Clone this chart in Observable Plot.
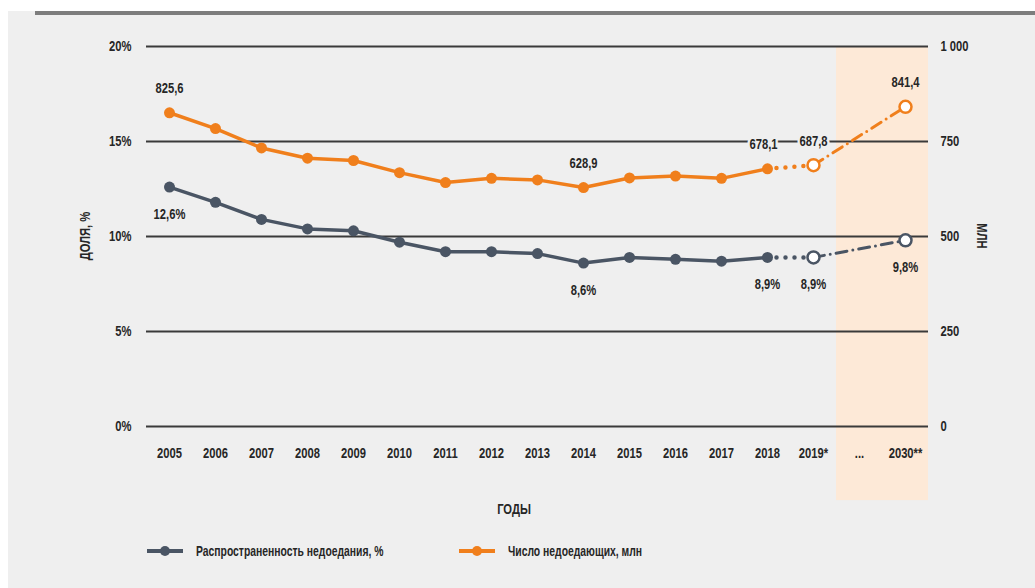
<!DOCTYPE html>
<html><head><meta charset="utf-8">
<script src="https://cdn.jsdelivr.net/npm/d3@7"></script>
<script src="https://cdn.jsdelivr.net/npm/@observablehq/plot@0.6"></script>
<style>
body{margin:0;background:#fff;width:1035px;height:588px;overflow:hidden;position:relative;
 font-family:"Liberation Sans",Arial,sans-serif;font-weight:bold;color:#262626}
#bg{position:absolute;left:8px;top:11px;width:1027px;height:577px;background:#efefef}
#bar{position:absolute;left:35px;top:11px;width:1000px;height:4px;background:#7d7d7d}
#chart{position:absolute;left:0;top:0}
.lab{position:absolute;font-size:14px;white-space:nowrap;line-height:1}
.legend{position:absolute;top:543px;font-size:14px;display:flex;align-items:center;gap:12px;white-space:nowrap}
.legend span{display:inline-block;transform:scaleX(0.74);transform-origin:left center}
</style></head>
<body>
<div id="bg"></div><div id="bar"></div>
<div id="chart"></div>
<div class="lab" id="ylab" style="left:85px;top:236px;transform:translate(-50%,-50%) rotate(-90deg) scaleX(0.8)">ДОЛЯ, %</div>
<div class="lab" id="y2lab" style="left:982px;top:236px;transform:translate(-50%,-50%) rotate(90deg) scaleX(0.8)">МЛН</div>
<div class="lab" id="xlab" style="left:514px;top:509px;transform:translate(-50%,-50%) scaleX(0.8)">ГОДЫ</div>
<div class="legend" id="leg1" style="left:146px"></div>
<div class="legend" id="leg2" style="left:458px"></div>
<script>
// ---- data ----
const years = ["2005","2006","2007","2008","2009","2010","2011","2012","2013","2014","2015","2016","2017","2018","2019*","...","2030**"];
const dataYears = ["2005","2006","2007","2008","2009","2010","2011","2012","2013","2014","2015","2016","2017","2018","2019*","2030**"];
const prevalence = [12.6,11.8,10.9,10.4,10.3,9.7,9.2,9.2,9.1,8.6,8.9,8.8,8.7,8.9,8.9,9.8];
const undernourished = [825.6,784,733,706,700,668,642,653,649,628.9,654,659,653,678.1,687.8,841.4];
const labelYears = ["2005","2014","2018","2019*","2030**"];
const forecastYears = ["...","2030**"];
const pctTicks = [0,5,10,15,20];
const mlnTicks = [0,250,500,750,1000];
const seriesNames = ["Распространенность недоедания, %","Число недоедающих, млн"];

// ---- styles ----
const GRAY = "#4a5564", ORANGE = "#f07f1c", BAND = "#fde9d7", BG = "#efefef", INK = "#262626";
const MLN_PER_PCT = mlnTicks[mlnTicks.length-1] / pctTicks[pctTicks.length-1];
const ru = d3.formatLocale({decimal:",", thousands:" ", grouping:[3], currency:["",""]});
const fmt1 = ru.format(".1f"), fmtInt = ru.format(",");

const rows = dataYears.map((y,i)=>({year:y, pct:prevalence[i], mln:undernourished[i]}));
const lastObs = dataYears.indexOf("2018"), est = dataYears.indexOf("2019*");
const solid = rows.slice(0, lastObs+1);
const dotted = rows.slice(lastObs, est+1);
const dashdot = rows.slice(est);
const openPts = rows.slice(est);
const labRows = rows.filter(r=>labelYears.includes(r.year));
const yM = r => r.mln / MLN_PER_PCT;

const nearGrid = labRows.filter(r=>!forecastYears.includes(r.year) && r.year!=="2018");
const lab2018 = labRows.filter(r=>r.year==="2018");
const labFc = labRows.filter(r=>forecastYears.includes(r.year));

const chart = Plot.plot({
  width:1035, height:520,
  marginTop:46, marginBottom:94, marginLeft:146, marginRight:107,
  style:{background:"transparent", fontFamily:'"Liberation Sans",Arial,sans-serif', fontWeight:"bold", fontSize:"14px", color:INK},
  x:{type:"band", domain:years, padding:0},
  y:{domain:[pctTicks[0], pctTicks[pctTicks.length-1]]},
  marks:[
    Plot.barY(forecastYears, {x:d=>d, y1:-3.9, y2:pctTicks[pctTicks.length-1], fill:BAND}),
    Plot.ruleY(pctTicks, {stroke:"#3a3a3a", strokeWidth:2}),
    Plot.axisX({tickSize:0, tickPadding:22, label:null, fontSize:14}),
    Plot.axisY({anchor:"left", ticks:pctTicks, tickSize:0, tickPadding:15, tickFormat:d=>d+"%", label:null, fontSize:14}),
    Plot.axisY({anchor:"right", ticks:mlnTicks.map(v=>v/MLN_PER_PCT), tickSize:0, tickPadding:12, tickFormat:(d,i)=>fmtInt(mlnTicks[i]), label:null, fontSize:14}),
    // gray series
    Plot.line(solid, {x:"year", y:"pct", stroke:GRAY, strokeWidth:3.5}),
    Plot.line(dotted, {x:"year", y:"pct", stroke:GRAY, strokeWidth:4.5, strokeDasharray:"0,9", strokeLinecap:"round"}),
    Plot.line(dashdot, {x:"year", y:"pct", stroke:GRAY, strokeWidth:3, strokeDasharray:"11,6,0,6", strokeLinecap:"round"}),
    // orange series
    Plot.line(solid, {x:"year", y:yM, stroke:ORANGE, strokeWidth:3.5}),
    Plot.line(dotted, {x:"year", y:yM, stroke:ORANGE, strokeWidth:4.5, strokeDasharray:"0,9", strokeLinecap:"round"}),
    Plot.line(dashdot, {x:"year", y:yM, stroke:ORANGE, strokeWidth:3, strokeDasharray:"11,6,0,6", strokeLinecap:"round"}),
    Plot.dot(solid, {x:"year", y:"pct", r:5.5, fill:GRAY}),
    Plot.dot(solid, {x:"year", y:yM, r:5.5, fill:ORANGE}),
    Plot.dot(openPts, {x:"year", y:"pct", r:6, fill:"white", stroke:GRAY, strokeWidth:2.5}),
    Plot.dot(openPts, {x:"year", y:yM, r:6, fill:"white", stroke:ORANGE, strokeWidth:2.5}),
    // value labels
    Plot.text(nearGrid, {x:"year", y:yM, text:r=>fmt1(r.mln), dy:-24, fill:INK, stroke:BG, strokeWidth:6, fontSize:14}),
    Plot.text(lab2018, {x:"year", y:yM, text:r=>fmt1(r.mln), dy:-24, dx:-4, fill:INK, stroke:BG, strokeWidth:6, fontSize:14}),
    Plot.text(labFc, {x:"year", y:yM, text:r=>fmt1(r.mln), dy:-24, fill:INK, fontSize:14}),
    Plot.text(labRows, {x:"year", y:"pct", text:r=>fmt1(r.pct)+"%", dy:27, fill:INK, fontSize:14})
  ]
});
document.getElementById("chart").appendChild(chart);
// condense glyphs horizontally (narrow typeface look)
chart.querySelectorAll("text").forEach(t=>{
  const w = t.getComputedTextLength();
  if (w > 0) { t.setAttribute("textLength", (w*0.8).toFixed(2)); t.setAttribute("lengthAdjust","spacingAndGlyphs"); }
});

function swatch(color){
  const s = d3.create("svg").attr("width",38).attr("height",12);
  s.append("line").attr("x1",1).attr("x2",37).attr("y1",6).attr("y2",6).attr("stroke",color).attr("stroke-width",4);
  s.append("circle").attr("cx",19).attr("cy",6).attr("r",5).attr("fill",color);
  return s.node();
}
[[GRAY,"leg1"],[ORANGE,"leg2"]].forEach(([c,id],i)=>{
  const el = document.getElementById(id);
  el.appendChild(swatch(c));
  const t = document.createElement("span"); t.textContent = seriesNames[i]; el.appendChild(t);
});
</script>
</body></html>
